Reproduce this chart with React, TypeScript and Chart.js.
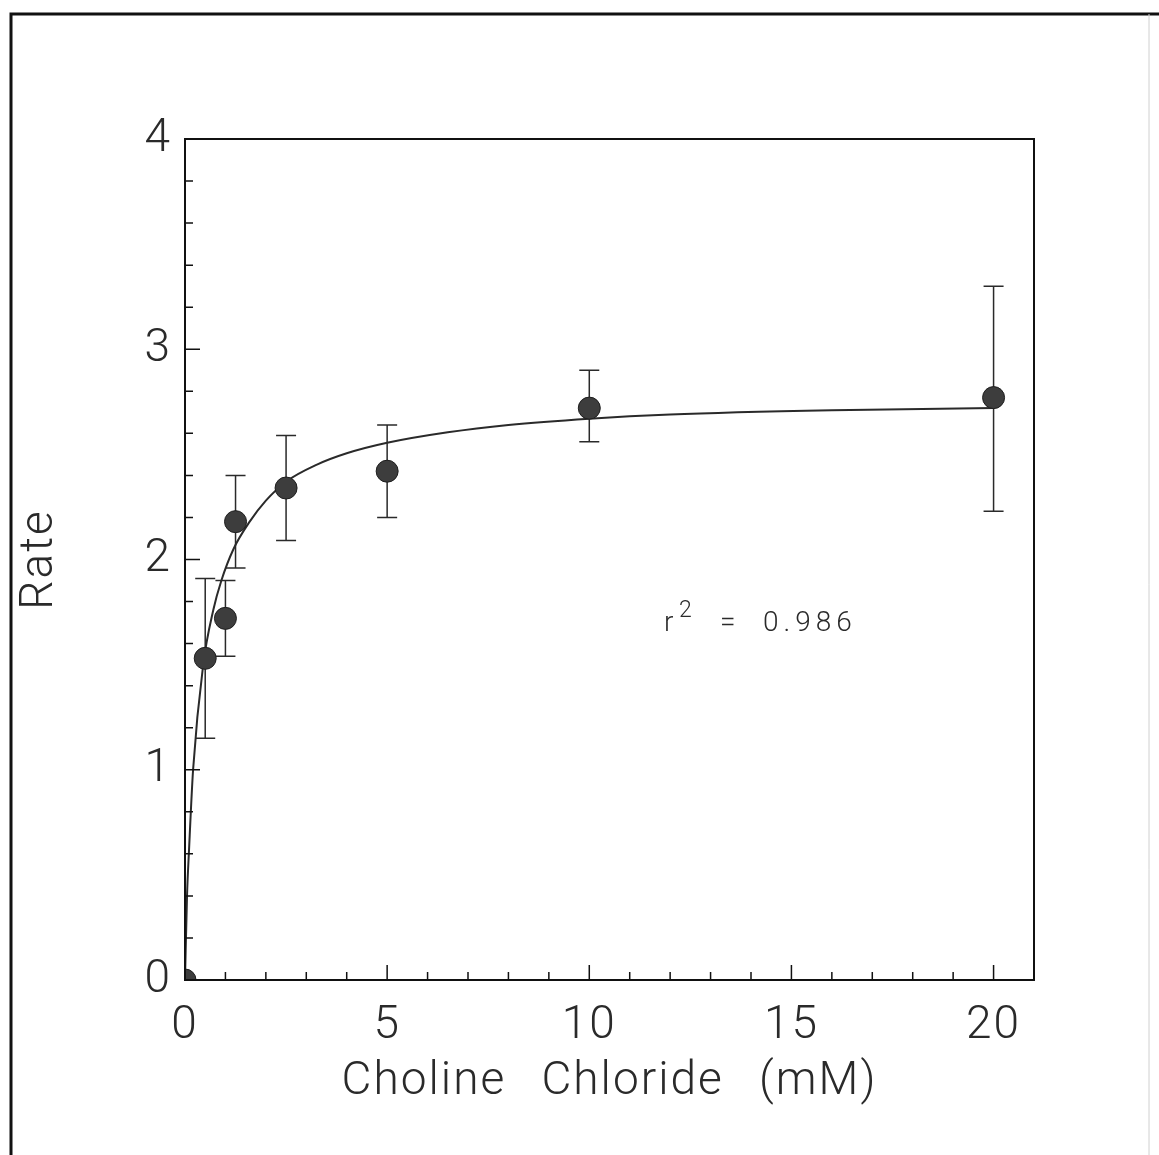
import React, { useEffect, useRef } from "react";
import { Chart, registerables } from "chart.js";

Chart.register(...registerables);

// ---- data ----
const concentrations = [0, 0.5, 1, 1.25, 2.5, 5, 10, 20];
const rates = [0, 1.53, 1.72, 2.18, 2.34, 2.42, 2.72, 2.77];
const errorLow: (number | null)[] = [null, 1.15, 1.54, 1.96, 2.09, 2.2, 2.56, 2.23];
const errorHigh: (number | null)[] = [null, 1.91, 1.9, 2.4, 2.59, 2.64, 2.9, 3.3];

const fitX = [0, 0.05, 0.1, 0.2, 0.45, 0.7, 0.9, 1.2, 1.6, 2, 2.5, 3.25, 4, 5, 6.5, 8, 10, 12, 16, 20];
const fitY = [0, 0.4, 0.62, 1.0, 1.5, 1.76, 1.9, 2.05, 2.18, 2.28, 2.37, 2.45, 2.505, 2.555, 2.605, 2.64, 2.67, 2.69, 2.71, 2.72];

const xLabeledTicks = [0, 5, 10, 15, 20];
const yLabeledTicks = [0, 1, 2, 3, 4];

const xTitle = "Choline Chloride (mM)";
const yTitle = "Rate";
const rSquaredText = "0.986";

const FONT = "Roboto, 'DejaVu Sans', sans-serif";
const INK = "#2a2a2a";

const isOn = (v: number, list: number[]) => list.some((t) => Math.abs(t - v) < 1e-6);

const decorPlugin = {
  id: "decor",
  beforeDraw(chart: any) {
    const { ctx, width, height } = chart;
    ctx.save();
    ctx.fillStyle = "#ffffff";
    ctx.fillRect(0, 0, width, height);
    // outer frame
    ctx.strokeStyle = "#111";
    ctx.lineWidth = 3;
    ctx.beginPath();
    ctx.moveTo(11, height);
    ctx.lineTo(11, 14);
    ctx.lineTo(width, 14);
    ctx.stroke();
    ctx.strokeStyle = "#d0d0d0";
    ctx.lineWidth = 1;
    ctx.beginPath();
    ctx.moveTo(1149, 14);
    ctx.lineTo(1149, height);
    ctx.stroke();
    ctx.restore();
    // wider lettering, like the plotter font of the reference
    (ctx as any).letterSpacing = "2px";
    (ctx as any).wordSpacing = "22px";
  },
  beforeDatasetsDraw(chart: any) {
    const { ctx, scales } = chart;
    const xs = scales.x;
    const ys = scales.y;
    ctx.save();
    ctx.strokeStyle = INK;
    ctx.lineWidth = 1.5;
    concentrations.forEach((c, i) => {
      const lo = errorLow[i];
      const hi = errorHigh[i];
      if (lo == null || hi == null) return;
      const px = xs.getPixelForValue(c);
      const pLo = ys.getPixelForValue(lo);
      const pHi = ys.getPixelForValue(hi);
      ctx.beginPath();
      ctx.moveTo(px, pLo);
      ctx.lineTo(px, pHi);
      ctx.moveTo(px - 10, pLo);
      ctx.lineTo(px + 10, pLo);
      ctx.moveTo(px - 10, pHi);
      ctx.lineTo(px + 10, pHi);
      ctx.stroke();
    });
    ctx.restore();
  },
  afterDraw(chart: any) {
    const { ctx, chartArea, scales } = chart;
    const xs = scales.x;
    const ys = scales.y;
    ctx.save();
    // plot box
    ctx.strokeStyle = "#111";
    ctx.lineWidth = 2;
    ctx.strokeRect(chartArea.left, chartArea.top, chartArea.right - chartArea.left, chartArea.bottom - chartArea.top);
    // inward ticks
    ctx.lineWidth = 1.5;
    ctx.beginPath();
    xs.ticks.forEach((t: any) => {
      const px = xs.getPixelForValue(t.value);
      const len = isOn(t.value, xLabeledTicks) ? 15 : 8;
      ctx.moveTo(px, chartArea.bottom);
      ctx.lineTo(px, chartArea.bottom - len);
    });
    ys.ticks.forEach((t: any) => {
      const py = ys.getPixelForValue(t.value);
      const len = isOn(t.value, yLabeledTicks) ? 15 : 8;
      ctx.moveTo(chartArea.left, py);
      ctx.lineTo(chartArea.left + len, py);
    });
    ctx.stroke();
    // r^2 annotation
    const ax = xs.getPixelForValue(11.85);
    const ay = ys.getPixelForValue(1.66);
    ctx.fillStyle = INK;
    ctx.textBaseline = "alphabetic";
    ctx.textAlign = "left";
    (ctx as any).wordSpacing = "0px";
    (ctx as any).letterSpacing = "0px";
    ctx.font = `300 28px ${FONT}`;
    ctx.fillText("r", ax, ay);
    ctx.font = `300 23px ${FONT}`;
    ctx.fillText("2", ax + 15, ay - 14);
    ctx.font = `300 28px ${FONT}`;
    ctx.fillText("=", ax + 56, ay);
    (ctx as any).letterSpacing = "5px";
    ctx.fillText(rSquaredText, ax + 99, ay);
    ctx.restore();
  },
};

export default function App() {
  const ref = useRef<HTMLCanvasElement | null>(null);

  useEffect(() => {
    if (!ref.current) return;
    const chart = new Chart(ref.current, {
      type: "scatter",
      data: {
        datasets: [
          {
            label: "fit",
            data: fitX.map((x, i) => ({ x, y: fitY[i] })),
            showLine: true,
            borderColor: INK,
            borderWidth: 2,
            pointRadius: 0,
            cubicInterpolationMode: "monotone",
            fill: false,
            order: 2,
          },
          {
            label: "Rate",
            data: concentrations.map((x, i) => ({ x, y: rates[i] })),
            showLine: false,
            pointRadius: 11,
            pointBackgroundColor: "#3d3d3d",
            pointBorderColor: "#1e1e1e",
            pointBorderWidth: 1,
            clip: 0,
            order: 1,
          } as any,
        ],
      },
      options: {
        animation: false,
        responsive: false,
        devicePixelRatio: 1,
        layout: { padding: { left: 0, top: 139, right: 125, bottom: 0 } },
        plugins: {
          legend: { display: false },
          tooltip: { enabled: false },
        },
        scales: {
          x: {
            type: "linear",
            min: 0,
            max: 21,
            afterFit: (s: any) => {
              s.height = 175;
            },
            ticks: {
              stepSize: 1,
              autoSkip: false,
              maxRotation: 0,
              padding: 19,
              color: INK,
              font: { family: FONT, size: 46, weight: "300" as any },
              callback: (v: any) => (isOn(Number(v), xLabeledTicks) ? String(Math.round(Number(v))) : ""),
            },
            grid: { display: false, drawTicks: false },
            border: { display: false },
            title: {
              display: true,
              text: xTitle,
              color: INK,
              padding: { top: 10, bottom: 45 },
              font: { family: FONT, size: 46, weight: "300" as any },
            },
          },
          y: {
            type: "linear",
            min: 0,
            max: 4,
            afterFit: (s: any) => {
              s.width = 185;
            },
            ticks: {
              stepSize: 0.2,
              autoSkip: false,
              padding: 13,
              color: INK,
              font: { family: FONT, size: 46, weight: "300" as any },
              callback: (v: any) => (isOn(Number(v), yLabeledTicks) ? String(Math.round(Number(v))) : ""),
            },
            grid: { display: false, drawTicks: false },
            border: { display: false },
            title: {
              display: true,
              text: yTitle,
              color: INK,
              padding: { top: 13, bottom: 10 },
              font: { family: FONT, size: 46, weight: "300" as any },
            },
          },
        },
      },
      plugins: [decorPlugin],
    });
    return () => chart.destroy();
  }, []);

  return (
    <div style={{ position: "fixed", left: 0, top: 0, width: 1159, height: 1155, background: "#fff" }}>
      <canvas ref={ref} width={1159} height={1155} style={{ width: 1159, height: 1155, display: "block" }} />
    </div>
  );
}
